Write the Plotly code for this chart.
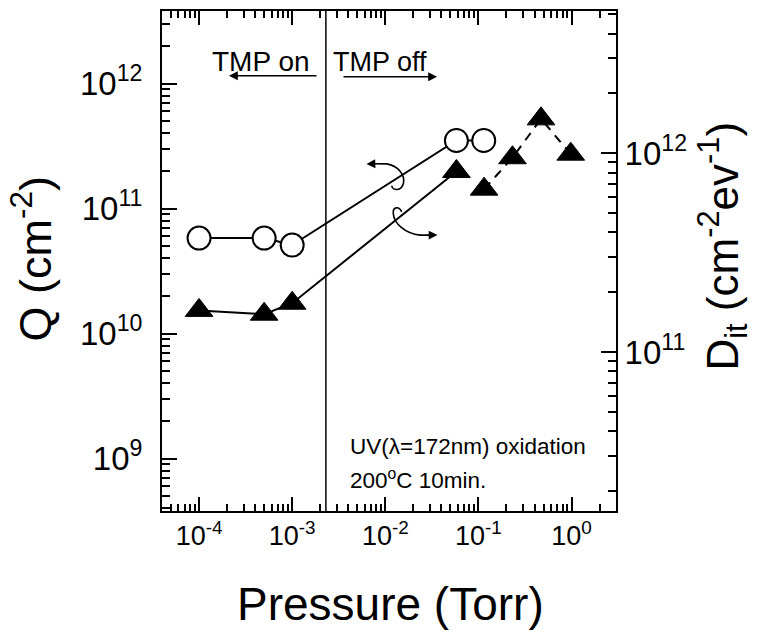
import plotly.graph_objects as go

# ---------------- data ----------------
q_pressure = [1e-4, 5e-4, 1e-3, 0.058, 0.114]
q_values = [5.8e10, 5.8e10, 5.1e10, 3.5e11, 3.5e11]

dit_pressure = [1e-4, 5e-4, 1e-3, 0.058, 0.115, 0.232, 0.47, 0.98]
dit_values = [1.62e11, 1.55e11, 1.76e11, 8.1e11, 6.6e11, 9.5e11, 1.49e12, 9.9e11]

x_tickvals = [1e-4, 1e-3, 1e-2, 1e-1, 1e0]
x_ticktext = ["10<sup>-4</sup>", "10<sup>-3</sup>", "10<sup>-2</sup>", "10<sup>-1</sup>", "10<sup>0</sup>"]
y_tickvals = [1e9, 1e10, 1e11, 1e12]
y_ticktext = ["10<sup>9</sup>", "10<sup>10</sup>", "10<sup>11</sup>", "10<sup>12</sup>"]
y2_tickvals = [1e11, 1e12]
y2_ticktext = ["10<sup>11</sup>", "10<sup>12</sup>"]

tmp_switch_pressure = 2.3e-3

# minor tick positions (2..9 in each decade)
x_minor = [k * 10.0 ** e for e in range(-5, 1) for k in range(2, 10)]
y_minor = [k * 10.0 ** e for e in range(8, 13) for k in range(2, 10)]
y2_minor = [k * 10.0 ** e for e in range(10, 13) for k in range(2, 10)]

FONT = "Liberation Sans, Arial, sans-serif"

# plot geometry (pixels) used only to place decorations
L, R, T, B = 162, 616, 9, 511
W, H = 758, 632


def px(xp, yp):
    return (xp - L) / (R - L), (B - yp) / (B - T)


fig = go.Figure()

fig.add_trace(go.Scatter(
    x=q_pressure, y=q_values, mode="lines+markers", yaxis="y",
    line=dict(color="black", width=2),
    marker=dict(symbol="circle", size=23, color="white", line=dict(color="black", width=2)),
    name="Q"))

fig.add_trace(go.Scatter(
    x=dit_pressure[:4], y=dit_values[:4], mode="lines+markers", yaxis="y2",
    line=dict(color="black", width=2),
    marker=dict(symbol="triangle-up", size=24, color="black", line=dict(color="black", width=1)),
    name="Dit"))

fig.add_trace(go.Scatter(
    x=dit_pressure[4:], y=dit_values[4:], mode="lines+markers", yaxis="y2",
    line=dict(color="black", width=2, dash="9px,7px"),
    marker=dict(symbol="triangle-up", size=24, color="black", line=dict(color="black", width=1)),
    name="Dit2"))

axis_common = dict(
    type="log", showline=True, linecolor="black", linewidth=2,
    ticks="inside", tickcolor="black", tickwidth=1.5, showgrid=False, zeroline=False,
)

fig.update_layout(
    width=W, height=H,
    margin=dict(l=L, r=W - R, t=T, b=H - B, pad=0),
    paper_bgcolor="white", plot_bgcolor="white",
    showlegend=False,
    xaxis=dict(
        **axis_common, range=[-4.398, 0.4771], mirror="ticks", ticklen=14,
        tickmode="array", tickvals=x_tickvals, ticktext=x_ticktext,
        tickfont=dict(family=FONT, size=27, color="black"),
        minor=dict(tickmode="array", tickvals=x_minor, ticks="inside", ticklen=7,
                   tickwidth=1.5, tickcolor="black", showgrid=False),
    ),
    yaxis=dict(
        **axis_common, range=[8.58, 12.58], ticklen=15, ticklabelstandoff=11,
        tickmode="array", tickvals=y_tickvals, ticktext=y_ticktext,
        tickfont=dict(family=FONT, size=33, color="black"),
        minor=dict(tickmode="array", tickvals=y_minor, ticks="inside", ticklen=8,
                   tickwidth=1.5, tickcolor="black", showgrid=False),
    ),
    yaxis2=dict(
        **axis_common, range=[10.2, 12.716], ticklen=15, overlaying="y", side="right",
        tickmode="array", tickvals=y2_tickvals, ticktext=y2_ticktext,
        tickfont=dict(family=FONT, size=33, color="black"),
        minor=dict(tickmode="array", tickvals=y2_minor, ticks="inside", ticklen=8,
                   tickwidth=1.5, tickcolor="black", showgrid=False),
    ),
)

# vertical TMP on/off boundary
fig.add_shape(type="line", xref="x", yref="paper", x0=tmp_switch_pressure, x1=tmp_switch_pressure,
              y0=0, y1=1, line=dict(color="black", width=1.5))

annotations = []


def text_ann(text, xp, yp, size, xanchor="center", angle=0):
    x, y = px(xp, yp)
    annotations.append(dict(text=text, x=x, y=y, xref="paper", yref="paper", showarrow=False,
                            xanchor=xanchor, yanchor="middle", textangle=angle,
                            font=dict(family=FONT, size=size, color="black")))


def arrow_ann(tip_x, tip_y, tail_x, tail_y):
    x, y = px(tip_x, tip_y)
    annotations.append(dict(text="", x=x, y=y, xref="paper", yref="paper", showarrow=True,
                            ax=tail_x - tip_x, ay=tail_y - tip_y, arrowhead=2, arrowsize=1.1,
                            arrowwidth=1.6, arrowcolor="black"))


text_ann("TMP on", 260.5, 60, 28)
text_ann("TMP off", 380, 60, 27)
arrow_ann(229, 74, 318, 74)
arrow_ann(437, 75, 342, 75)
arrow_ann(366.5, 162.7, 374.5, 162.4)
arrow_ann(437.5, 234, 429.5, 234)

text_ann("UV(λ=172nm) oxidation", 348, 446.7, 22.5, xanchor="left")
text_ann("200<sup>o</sup>C 10min.", 348, 478.5, 22.5, xanchor="left")

# axis titles
text_ann("Q (cm<sup>-2</sup>)", 32, 257.5, 45, angle=-90)
text_ann("D<sub>it</sub> (cm<sup>-2</sup>ev<sup>-1</sup>)", 723, 245.5, 44, angle=-90)
text_ann("Pressure (Torr)", 390.5, 604, 46)

fig.update_layout(annotations=annotations)


# curved pointer arrows (decorations)
def path_from(cmds):
    out = []
    for c, pts in cmds:
        coords = " ".join("%.5f,%.5f" % px(a, b) for a, b in pts)
        out.append(c + coords)
    return " ".join(out)


curve1 = path_from([
    ("M", [(391.7, 184.3)]),
    ("C", [(392.5, 189.5), (401.5, 190.5), (403.5, 181.7)]),
    ("C", [(405.0, 173.0), (398.0, 164.5), (386.7, 162.5)]),
    ("L", [(372.0, 162.4)]),
])
curve2 = path_from([
    ("M", [(401.7, 210.7)]),
    ("C", [(399.0, 204.5), (392.5, 205.5), (393.3, 212.5)]),
    ("C", [(394.0, 222.0), (405.0, 232.5), (420.0, 234.0)]),
    ("L", [(432.0, 234.0)]),
])
for p in (curve1, curve2):
    fig.add_shape(type="path", path=p, xref="paper", yref="paper",
                  line=dict(color="black", width=1.6), layer="above")

fig.write_html("out.html")
